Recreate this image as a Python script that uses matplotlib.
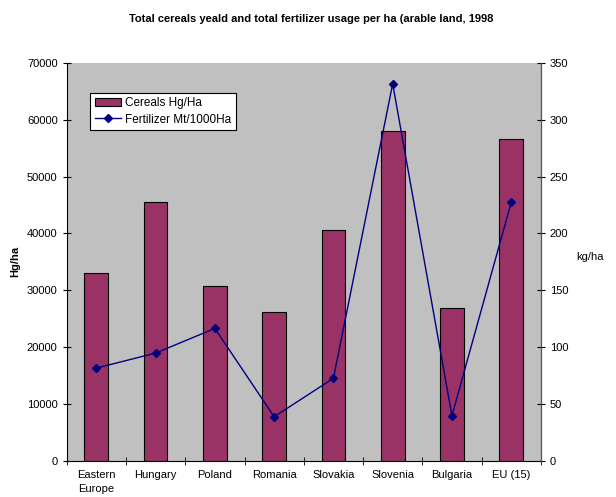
import numpy as np
import matplotlib.pyplot as plt
from matplotlib.lines import Line2D
from matplotlib.patches import Patch

plt.rcParams['font.family'] = ['Liberation Sans', 'DejaVu Sans']

countries = ["Eastern\nEurope", "Hungary", "Poland", "Romania",
             "Slovakia", "Slovenia", "Bulgaria", "EU (15)"]
cereals = [33100, 45550, 30700, 26150, 40550, 58050, 26850, 56650]   # Hg/Ha
fertilizer = [81.5, 94.7, 116.4, 38.7, 72.5, 331.6, 39.6, 227.3]     # kg/ha

fig = plt.figure(figsize=(6.16, 4.97), dpi=100)
ax = fig.add_axes([0.1083, 0.073, 0.7697, 0.8005])
ax.set_facecolor("#c0c0c0")

x = np.arange(len(countries))
ax.bar(x, cereals, width=0.4, color="#993366", edgecolor="black", linewidth=0.8)
ax.set_xlim(-0.5, len(countries) - 0.5)
ax.set_ylim(0, 70000)
ax.set_yticks(np.arange(0, 70001, 10000))
ax.set_xticks(x)
ax.set_xticklabels(countries, fontsize=8, linespacing=1.4)
ax.set_xticks(np.arange(-0.5, len(countries), 1), minor=True)
ax.tick_params(axis='x', which='major', length=0, pad=7)
ax.tick_params(axis='x', which='minor', length=6, direction='inout')
ax.tick_params(axis='y', labelsize=8, length=6, direction='inout')
ax.set_ylabel("Hg/ha", fontsize=8, fontweight='bold', labelpad=5)
ax.spines['top'].set_visible(False)

ax2 = ax.twinx()
ax2.plot(x, fertilizer, color="#000080", marker="D", markersize=4, linewidth=1)
ax2.set_ylim(0, 350)
ax2.set_yticks(np.arange(0, 351, 50))
ax2.tick_params(axis='y', labelsize=8, length=6, direction='inout')
ax2.spines['right'].set_color("#555555")
ax2.spines['top'].set_visible(False)
ax2.spines['left'].set_visible(False)
ax2.spines['bottom'].set_visible(False)
fig.text(0.957, 0.483, "kg/ha", fontsize=8, ha='center', va='center')

handles = [Patch(facecolor="#993366", edgecolor="black", linewidth=0.8),
           Line2D([0], [0], color="#000080", marker="D", markersize=4, linewidth=1)]
leg = ax2.legend(handles, ["Cereals Hg/Ha", "Fertilizer Mt/1000Ha"],
                 loc='upper left', bbox_to_anchor=(0.05, 0.925), fontsize=8.5,
                 frameon=True, fancybox=False, edgecolor="black",
                 facecolor="white", framealpha=1,
                 handlelength=2.2, handletextpad=0.3, borderpad=0.4,
                 labelspacing=0.35, borderaxespad=0)
leg.get_frame().set_linewidth(0.8)

fig.suptitle("Total cereals yeald and total fertilizer usage per ha (arable land, 1998",
             x=0.505, y=0.972, fontsize=8, fontweight='bold')

fig.savefig("out.png", dpi=100)
